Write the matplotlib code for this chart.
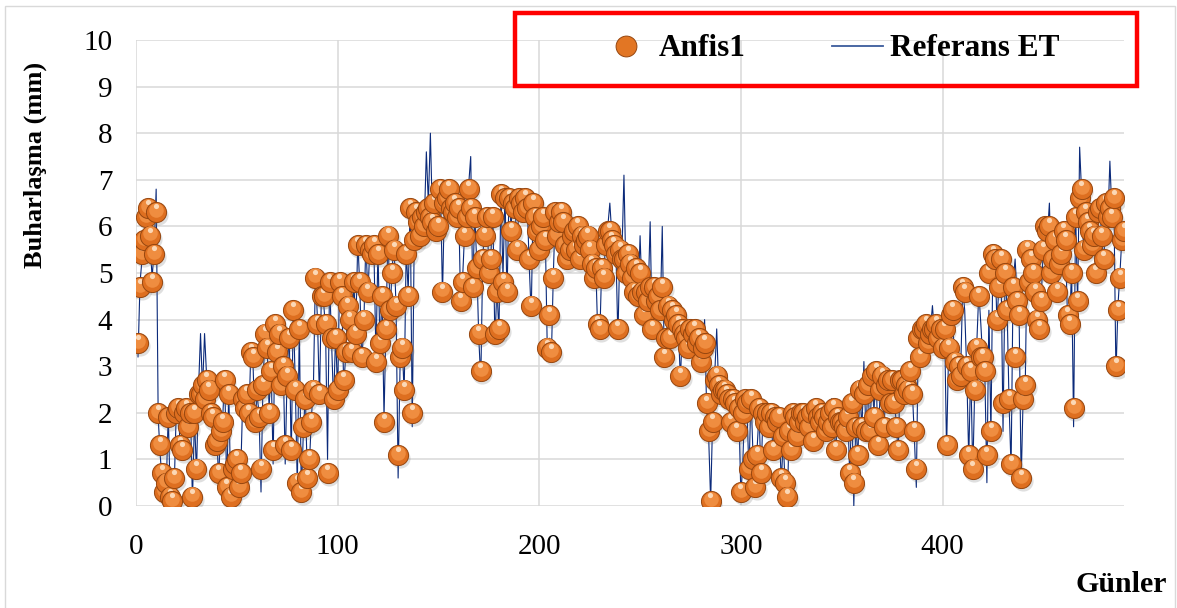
import matplotlib
matplotlib.use("Agg")
import matplotlib.pyplot as plt
import numpy as np
from matplotlib import transforms
from matplotlib.lines import Line2D
from matplotlib.patches import Rectangle

plt.rcParams['font.family'] = ['Liberation Serif', 'DejaVu Serif']

# daily evaporation, days 1..490
anfis1 = [
    3.5, 4.7, 5.4, 5.7, 6.2, 6.4, 5.8, 4.8, 5.4, 6.3,
    2.0, 1.3, 0.7, 0.3, 0.5, 1.9, 0.2, 0.1, 0.6, 2.0,
    2.1, 1.3, 1.2, 2.0, 2.1, 1.7, 2.0, 0.2, 2.0, 0.8,
    2.4, 2.4, 2.6, 2.3, 2.7, 2.5, 2.0, 1.9, 1.3, 1.4,
    0.7, 1.6, 1.8, 2.7, 0.4, 2.4, 0.2, 0.8, 0.9, 1.0,
    0.4, 0.7, 2.3, 2.1, 2.4, 2.0, 3.3, 3.2, 1.8, 2.5,
    1.9, 0.8, 2.6, 3.7, 3.4, 2.0, 2.9, 1.2, 3.9, 3.3,
    3.7, 2.6, 3.0, 1.3, 2.8, 3.6, 1.2, 4.2, 2.5, 0.5,
    3.8, 0.3, 1.7, 2.3, 0.6, 1.0, 1.8, 2.5, 4.9, 3.9,
    2.4, 4.5, 4.5, 3.9, 0.7, 4.8, 3.6, 2.3, 3.6, 2.5,
    4.8, 4.5, 2.7, 3.3, 4.3, 4.0, 3.3, 4.8, 3.7, 5.6,
    4.8, 3.2, 4.0, 5.6, 4.6, 5.5, 5.4, 5.6, 3.1, 5.4,
    3.5, 4.5, 1.8, 3.8, 5.8, 4.2, 5.0, 5.5, 4.3, 1.1,
    3.2, 3.4, 2.5, 5.4, 4.5, 6.4, 2.0, 5.7, 6.3, 6.1,
    5.8, 6.2, 6.0, 6.3, 6.4, 6.2, 6.1, 6.5, 5.9, 6.0,
    6.8, 4.6, 6.5, 6.6, 6.8, 6.4, 6.3, 6.5, 6.2, 6.4,
    4.4, 4.8, 5.8, 6.2, 6.8, 6.4, 4.7, 6.2, 5.1, 3.7,
    2.9, 5.3, 5.8, 6.2, 5.0, 5.3, 6.2, 3.7, 4.6, 3.8,
    6.7, 4.8, 6.6, 4.6, 6.6, 5.9, 6.5, 6.4, 5.5, 6.6,
    6.5, 6.3, 6.6, 6.4, 5.3, 4.3, 6.5, 6.2, 5.9, 5.5,
    6.0, 6.2, 5.7, 3.4, 4.1, 3.3, 4.9, 6.3, 5.8, 6.1,
    6.3, 6.1, 5.6, 5.3, 5.5, 5.8, 5.9, 5.5, 6.0, 5.3,
    5.8, 5.6, 5.7, 5.8, 5.5, 5.2, 4.9, 5.1, 3.9, 3.8,
    5.1, 4.9, 5.6, 5.9, 5.9, 5.7, 5.6, 5.4, 3.8, 5.5,
    5.3, 5.3, 5.0, 5.4, 5.2, 4.9, 4.6, 5.1, 4.5, 5.0,
    4.6, 4.1, 4.6, 4.4, 4.7, 3.8, 4.7, 4.4, 4.5, 4.2,
    4.7, 3.2, 3.6, 4.3, 3.6, 4.2, 4.0, 4.1, 3.9, 2.8,
    3.8, 3.7, 3.6, 3.4, 3.8, 3.7, 3.8, 3.5, 3.6, 3.1,
    3.4, 3.5, 2.2, 1.6, 0.1, 1.8, 2.7, 2.8, 2.6, 2.4,
    2.5, 2.5, 2.4, 2.3, 1.8, 2.3, 2.2, 1.6, 2.1, 0.3,
    2.0, 2.3, 2.2, 0.8, 2.3, 1.0, 0.4, 1.1, 2.1, 0.7,
    2.0, 1.8, 2.0, 1.7, 2.0, 1.2, 1.9, 1.8, 1.9, 0.6,
    1.5, 0.5, 0.2, 1.6, 1.2, 2.0, 1.9, 1.5, 1.8, 2.0,
    2.0, 1.8, 1.9, 1.7, 2.0, 1.4, 2.1, 1.9, 1.8, 2.0,
    1.9, 1.6, 1.8, 2.0, 1.7, 2.1, 1.2, 1.9, 1.8, 1.8,
    1.7, 1.6, 1.9, 0.7, 2.2, 0.5, 1.7, 1.1, 2.5, 1.7,
    2.4, 1.6, 2.6, 1.6, 2.8, 1.9, 2.9, 1.3, 2.5, 2.8,
    1.7, 2.6, 2.7, 2.2, 2.7, 2.2, 1.7, 1.2, 2.7, 2.7,
    2.4, 2.6, 2.5, 2.9, 2.4, 1.6, 0.8, 3.6, 3.2, 3.8,
    3.8, 3.9, 3.5, 3.7, 3.8, 3.8, 3.9, 3.6, 3.8, 3.4,
    3.8, 1.3, 3.4, 4.1, 4.2, 3.1, 2.7, 3.0, 2.8, 4.7,
    4.6, 3.0, 1.1, 2.9, 0.8, 2.5, 3.4, 4.5, 3.2, 3.2,
    2.9, 1.1, 5.0, 1.6, 5.4, 5.3, 4.0, 4.7, 5.3, 2.2,
    5.0, 4.2, 2.3, 0.9, 4.7, 3.2, 4.4, 4.1, 0.6, 2.3,
    2.6, 5.5, 4.8, 5.3, 5.0, 4.6, 4.0, 3.8, 4.4, 5.5,
    6.0, 5.9, 6.0, 5.0, 5.3, 5.7, 4.6, 5.2, 5.4, 5.9,
    5.7, 4.1, 3.9, 5.0, 2.1, 6.2, 4.4, 6.6, 6.8, 5.5,
    6.3, 6.1, 5.9, 5.6, 5.8, 5.0, 6.3, 6.4, 5.8, 5.3,
    6.5, 6.2, 6.4, 6.2, 6.6, 3.0, 4.2, 4.9, 5.7, 5.9,
]

referans_et = [
    3.2, 4.8, 5.3, 5.7, 6.1, 6.4, 5.6, 4.9, 5.5, 6.8,
    1.9, 1.1, 0.5, 0.2, 0.4, 2.0, 0.1, 0.1, 0.5, 2.1,
    2.2, 1.1, 1.3, 1.9, 2.2, 1.6, 2.1, 0.1, 1.9, 0.7,
    2.5, 3.7, 2.5, 3.7, 2.8, 2.4, 1.9, 2.0, 1.2, 1.5,
    0.6, 1.7, 1.9, 2.8, 0.3, 2.5, 0.2, 0.7, 1.0, 0.9,
    0.3, 0.8, 2.4, 2.0, 2.5, 1.9, 3.4, 3.1, 1.7, 2.4,
    2.0, 0.3, 2.7, 3.6, 3.5, 2.1, 3.0, 0.9, 4.0, 3.2,
    3.8, 2.5, 3.1, 0.9, 2.9, 3.7, 1.0, 4.3, 2.6, 0.4,
    3.9, 0.2, 1.6, 2.4, 0.5, 0.9, 1.9, 2.6, 5.0, 4.0,
    2.3, 4.7, 4.4, 3.8, 1.0, 4.9, 3.5, 2.2, 3.7, 2.4,
    4.9, 4.6, 2.6, 3.2, 4.4, 4.1, 3.2, 4.9, 3.8, 5.7,
    4.7, 3.1, 3.9, 5.7, 4.5, 5.6, 5.3, 5.5, 3.2, 5.5,
    3.4, 4.6, 1.9, 3.9, 5.9, 4.1, 5.1, 5.6, 4.2, 0.6,
    3.1, 3.5, 2.4, 5.5, 4.6, 6.5, 1.7, 5.8, 6.4, 6.2,
    5.9, 6.3, 6.1, 7.6, 6.5, 8.0, 6.2, 6.6, 5.8, 6.9,
    6.9, 4.5, 6.6, 6.7, 6.9, 6.5, 6.4, 6.6, 6.1, 6.5,
    4.3, 4.9, 5.9, 6.3, 6.9, 7.5, 4.6, 6.3, 5.2, 3.6,
    2.7, 5.4, 5.9, 6.3, 5.1, 5.4, 6.3, 3.5, 4.7, 3.7,
    6.8, 4.9, 6.7, 4.5, 6.7, 6.0, 6.6, 6.5, 5.4, 6.7,
    6.6, 6.4, 6.7, 6.5, 5.2, 4.1, 6.6, 6.3, 5.8, 5.4,
    6.1, 6.3, 5.8, 3.3, 3.6, 3.2, 5.0, 6.4, 5.9, 6.2,
    6.4, 6.2, 5.5, 5.2, 5.6, 5.9, 6.0, 5.4, 6.1, 5.2,
    5.9, 5.5, 5.8, 5.9, 5.6, 5.1, 4.8, 5.2, 3.7, 3.6,
    5.2, 5.0, 5.7, 6.0, 6.5, 5.8, 5.5, 5.5, 3.6, 5.6,
    5.4, 7.1, 4.9, 5.5, 5.1, 5.0, 4.5, 5.2, 4.4, 5.8,
    4.5, 4.0, 4.7, 4.5, 6.1, 3.7, 4.8, 4.5, 4.4, 4.1,
    6.0, 3.1, 3.5, 4.4, 3.5, 4.3, 4.1, 4.0, 3.8, 2.7,
    3.9, 3.6, 3.7, 3.3, 3.9, 3.8, 3.7, 3.6, 3.5, 3.0,
    3.3, 4.0, 2.1, 1.5, 0.1, 1.9, 2.8, 3.8, 2.5, 2.3,
    2.4, 2.6, 2.3, 2.4, 1.7, 2.2, 2.3, 1.5, 2.0, 0.2,
    1.0, 2.4, 2.1, 0.7, 2.4, 1.1, 0.3, 1.2, 2.0, 0.6,
    2.1, 1.7, 2.1, 1.6, 1.9, 1.1, 2.0, 1.7, 1.8, 0.5,
    1.4, 0.4, 0.1, 1.7, 1.1, 2.1, 1.8, 1.4, 1.9, 2.1,
    1.9, 1.7, 2.0, 1.8, 2.1, 1.3, 2.2, 2.0, 1.7, 2.1,
    2.0, 1.5, 1.7, 2.1, 2.3, 2.0, 1.1, 2.0, 1.9, 1.7,
    1.8, 1.5, 2.0, 0.6, 2.3, 0.0, 1.8, 1.0, 2.6, 1.6,
    3.1, 1.5, 2.7, 1.5, 2.9, 2.0, 3.0, 1.2, 2.4, 2.9,
    1.6, 2.7, 2.8, 2.1, 2.8, 2.3, 1.8, 1.1, 2.8, 2.6,
    2.5, 2.7, 2.4, 3.0, 2.5, 1.5, 0.4, 3.7, 3.1, 3.9,
    3.9, 4.0, 3.4, 3.8, 4.3, 3.7, 3.8, 3.5, 3.9, 3.3,
    3.9, 1.2, 3.3, 4.2, 4.1, 3.0, 2.6, 3.1, 2.9, 4.7,
    4.2, 2.9, 1.0, 3.0, 0.7, 2.6, 3.5, 4.6, 3.9, 3.1,
    2.8, 0.5, 4.2, 1.5, 5.5, 5.4, 3.9, 4.8, 5.2, 1.6,
    4.9, 4.3, 2.2, 0.8, 4.8, 5.3, 4.5, 4.0, 0.5, 2.4,
    2.5, 5.6, 4.9, 5.4, 5.1, 4.7, 3.9, 3.7, 4.5, 5.6,
    6.1, 5.8, 6.5, 4.9, 5.4, 5.8, 4.5, 5.3, 5.5, 6.0,
    5.6, 4.0, 3.8, 5.1, 1.7, 6.3, 4.3, 7.7, 6.7, 5.4,
    6.4, 6.0, 5.8, 5.5, 5.9, 4.9, 6.2, 6.5, 5.7, 5.2,
    6.6, 6.1, 7.4, 6.3, 6.5, 2.8, 4.3, 5.0, 5.8, 5.9,
]

days = np.arange(1, len(anfis1) + 1)

x_ticks = [0, 100, 200, 300, 400]
y_ticks = list(range(0, 11))

W, H = 1177, 608
fig = plt.figure(figsize=(W / 100, H / 100), dpi=100)
ax = fig.add_axes([136 / W, 102 / H, 988 / W, 466 / H])

ax.plot(days, referans_et, color='#0B2A7A', lw=0.8, zorder=2)

# orange "ball" markers: shadow, body, lighter top, glare
s_ball = 210
shadow = transforms.offset_copy(ax.transData, fig=fig, x=1.2, y=-2.2, units='points')
top = transforms.offset_copy(ax.transData, fig=fig, x=0, y=1.6, units='points')
glare = transforms.offset_copy(ax.transData, fig=fig, x=-0.3, y=4.3, units='points')
ax.scatter(days, anfis1, s=s_ball, color='#6e6e6e', alpha=0.22, lw=0,
           transform=shadow, zorder=2.5)
for i, (d, v) in enumerate(zip(days, anfis1)):
    z = 3 + i * 1e-3
    ax.scatter([d], [v], s=s_ball, color='#DE6F20', edgecolors='#96460F',
               linewidths=0.7, zorder=z)
    ax.scatter([d], [v], s=110, color='#EF8D40', lw=0, transform=top, zorder=z + 2e-4)
    ax.scatter([d], [v], s=14, color='#FBD8B6', lw=0, transform=glare, zorder=z + 4e-4)

ax.set_xlim(0, 490)
ax.set_ylim(0, 10)
ax.set_xticks(x_ticks)
ax.set_yticks(y_ticks)
ax.grid(True, color='#D9D9D9', lw=1.1, zorder=0)
ax.set_axisbelow(True)
for sp in ax.spines.values():
    sp.set_visible(False)
ax.tick_params(axis='both', length=0, labelsize=21)
ax.tick_params(axis='x', pad=20)
ax.tick_params(axis='y', pad=17)

fig.text(35 / W, 1 - 165 / H, 'Buharlaşma (mm)', rotation=90, ha='center',
         va='center', fontsize=19, fontweight='bold')
fig.text(1167 / W, 1 - 585 / H, 'Günler', ha='right', va='center',
         fontsize=21.5, fontweight='bold')

# legend in a red box above the plot
fig.add_artist(Rectangle((515 / W, 1 - 86 / H), 622 / W, 73 / H,
                         transform=fig.transFigure, fill=False,
                         ec='#FF0000', lw=3.2, zorder=10))
handles = [
    Line2D([], [], ls='none', marker='o', ms=15, mfc='#E27624', mec='#96460F',
           mew=0.7, label='Anfis1'),
    Line2D([], [], color='#3C5C9C', lw=1.3, label='Referans ET'),
]
fig.legend(handles=handles, loc='center', bbox_to_anchor=(830 / W, 1 - 49 / H),
           ncol=2, frameon=False, prop={'weight': 'bold', 'size': 22.5},
           handlelength=1.63, handletextpad=0.25, columnspacing=2.75)

# light outer frame of the chart
fig.add_artist(Rectangle((5 / W, -0.02), 1170 / W, 1.02 - 6 / H,
                         transform=fig.transFigure, fill=False,
                         ec='#D9D9D9', lw=1.0))

fig.savefig('out.png', dpi=100)
